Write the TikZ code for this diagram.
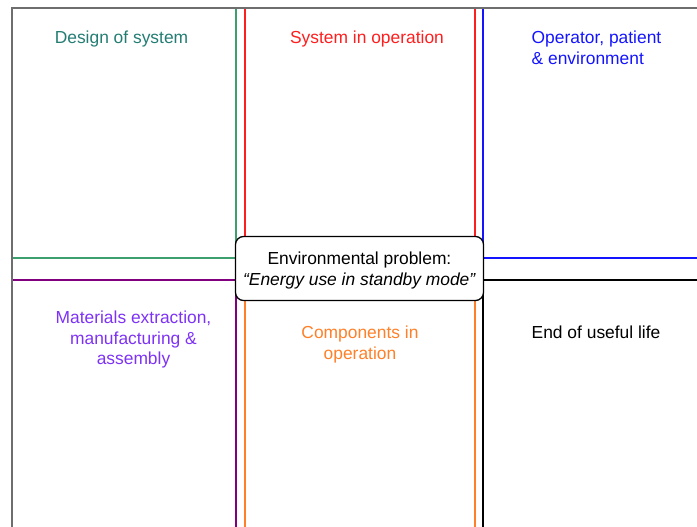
\documentclass[tikz,border=0pt]{standalone}
\usepackage{fontspec}
\setmainfont{Liberation Sans}
\usetikzlibrary{positioning}

\definecolor{designGreen}{RGB}{60,160,110}
\definecolor{designText}{RGB}{35,125,115}
\definecolor{operRed}{RGB}{255,30,30}
\definecolor{userBlue}{RGB}{20,20,255}
\definecolor{matPurple}{RGB}{128,0,128}
\definecolor{matText}{RGB}{125,50,245}
\definecolor{compOrange}{RGB}{255,128,40}
\definecolor{frameGray}{RGB}{110,110,110}

\begin{document}
\begin{tikzpicture}[
		x=1pt, y=-1pt,
		font=\fontsize{17.4}{20.7}\selectfont,
		cell/.style={line width=1.7pt},
		heading/.style={inner sep=0pt, align=center, anchor=north},
		problem/.style={draw=black, line width=1.3pt, rounded corners=8pt, fill=white,
			minimum width=248pt, minimum height=64pt, align=center, inner sep=0pt,
			text depth=0pt}
		]
		\useasboundingbox (0,0) rectangle (697,527);
		\clip (0,0) rectangle (697,527);
		
		% Upper row of stages
		\draw[cell, draw=designGreen] (12,8) rectangle (236,258);
		\draw[cell, draw=operRed] (245,8) rectangle (475,258);
		\draw[cell, draw=userBlue] (483,8) rectangle (720,258);
		
		% Lower row of stages
		\draw[cell, draw=matPurple] (12,280) rectangle (236,560);
		\draw[cell, draw=compOrange] (245,280) rectangle (475,560);
		\draw[cell, draw=black] (483,280) rectangle (720,560);
		
		% Outer frame
		\draw[line width=1.5pt, frameGray] (12,560) -- (12,8) -- (720,8);
		
		% Stage titles
		\node[heading, text=designText] (design) at (121.5,31) {Design of system};
		\node[heading, text=operRed] (oper) at (367,31) {System in operation};
		\node[heading, text=userBlue, align=left, anchor=north west] (user) at (531.5,31) {Operator, patient\\\& environment};
		\node[heading, text=matText] (mat) at (133.5,310.5) {Materials extraction,\\manufacturing \&\\assembly};
		\node[heading, text=compOrange] (comp) at (360,326) {Components in\\operation};
		\node[heading, anchor=north west] (eol) at (531.5,326) {End of useful life};
		
		% Central problem statement
		\node[problem] (prob) at (359.5,268.5) {Environmental problem:\\\textit{“Energy use in standby mode”}};
		
	\end{tikzpicture}
\end{document}
